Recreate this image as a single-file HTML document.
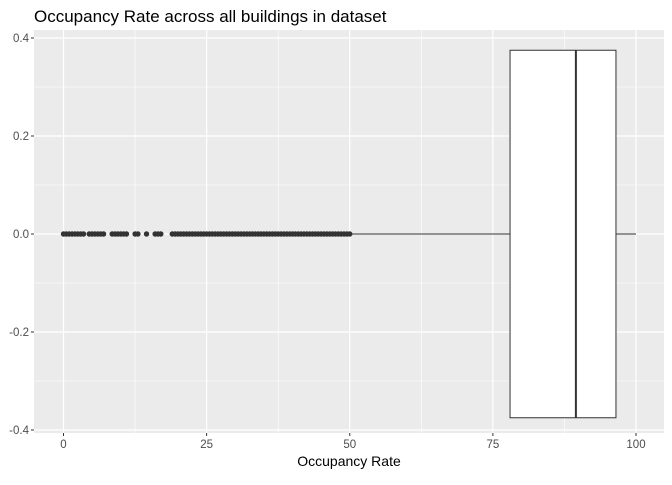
<!DOCTYPE html>
<html><head><meta charset="utf-8"><style>
body{margin:0;background:#fff;font-family:"Liberation Sans",sans-serif;}
</style></head><body>
<svg id="chart" width="672" height="480" xmlns="http://www.w3.org/2000/svg">
<text x="34" y="22" font-size="17" fill="#000">Occupancy Rate across all buildings in dataset</text>
<rect x="34" y="30" width="630" height="403" fill="#ebebeb"/>
<g id="grid"></g><g id="marks"></g><g id="axes"></g>
<text x="349" y="466" font-size="14" text-anchor="middle" fill="#000">Occupancy Rate</text>
</svg>
<script>
const xTicks=[0,25,50,75,100];
const yTicks=[-0.4,-0.2,0,0.2,0.4];
const yTickLabels=["-0.4","-0.2","0.0","0.2","0.4"];
const boxStats=[78,89.5,96.5]; // q1, median, q3
const whiskerLow=[50];
const whiskerHigh=[100];
const boxHalfWidth=[0.375];
const outliers=[0,0.5,1,1.5,2,2.5,3,3.5,4.5,5,5.5,6,6.5,7,8.5,9,9.5,10,10.5,11,12.5,13,14.5,16,16.5,17,19,19.5,20,20.5,21,21.5,22,22.5,23,23.5,24,24.5,25,25.5,26,26.5,27,27.5,28,28.5,29,29.5,30,30.5,31,31.5,32,32.5,33,33.5,34,34.5,35,35.5,36,36.5,37,37.5,38,38.5,39,39.5,40,40.5,41,41.5,42,42.5,43,43.5,44,44.5,45,45.5,46,46.5,47,47.5,48,48.5,49,49.5,50];
const NS="http://www.w3.org/2000/svg";
const X=v=>63.5+v*5.725, Y=v=>234-v*490;
function mk(p,t,a){const e=document.createElementNS(NS,t);for(const k in a)e.setAttribute(k,a[k]);p.appendChild(e);return e;}
const g=document.getElementById('grid'),m=document.getElementById('marks'),ax=document.getElementById('axes');
for(let i=0;i<xTicks.length-1;i++){const v=(xTicks[i]+xTicks[i+1])/2;const l=mk(g,'line',{x1:X(v),x2:X(v),y1:30,y2:433,stroke:'#fff','stroke-width':0.6});

}
for(let i=0;i<yTicks.length-1;i++){const v=(yTicks[i]+yTicks[i+1])/2;const l=mk(g,'line',{x1:34,x2:664,y1:Y(v),y2:Y(v),stroke:'#fff','stroke-width':0.6});

}
xTicks.forEach(v=>{const l=mk(g,'line',{x1:X(v),x2:X(v),y1:30,y2:433,stroke:'#fff','stroke-width':1.2});


const t=mk(ax,'line',{x1:X(v),x2:X(v),y1:433,y2:436,stroke:'#333'});


const tx=mk(ax,'text',{x:X(v),y:448,'font-size':11.5,'text-anchor':'middle',fill:'#4d4d4d'});tx.textContent=v;

});
yTicks.forEach((v,i)=>{const l=mk(g,'line',{x1:34,x2:664,y1:Y(v),y2:Y(v),stroke:'#fff','stroke-width':1.2});


const t=mk(ax,'line',{x1:31,x2:34,y1:Y(v),y2:Y(v),stroke:'#333'});


const tx=mk(ax,'text',{x:29,y:Y(v)+4,'font-size':11.5,'text-anchor':'end',fill:'#4d4d4d'});tx.textContent=yTickLabels[i];

});
const w1=mk(m,'line',{x1:X(whiskerLow[0]),x2:X(boxStats[0]),y1:Y(0),y2:Y(0),stroke:'#333','stroke-width':1});


const w2=mk(m,'line',{x1:X(boxStats[2]),x2:X(whiskerHigh[0]),y1:Y(0),y2:Y(0),stroke:'#333','stroke-width':1});


const b=mk(m,'rect',{x:X(boxStats[0]),y:Y(boxHalfWidth[0]),width:X(boxStats[2])-X(boxStats[0]),height:Y(-boxHalfWidth[0])-Y(boxHalfWidth[0]),fill:'#fff',stroke:'#333','stroke-width':1});


const md=mk(m,'line',{x1:X(boxStats[1]),x2:X(boxStats[1]),y1:Y(boxHalfWidth[0]),y2:Y(-boxHalfWidth[0]),stroke:'#333','stroke-width':2});


outliers.forEach(v=>{const c=mk(m,'circle',{cx:X(v),cy:Y(0),r:2.7,fill:'#333'});

});
</script>
</body></html>
